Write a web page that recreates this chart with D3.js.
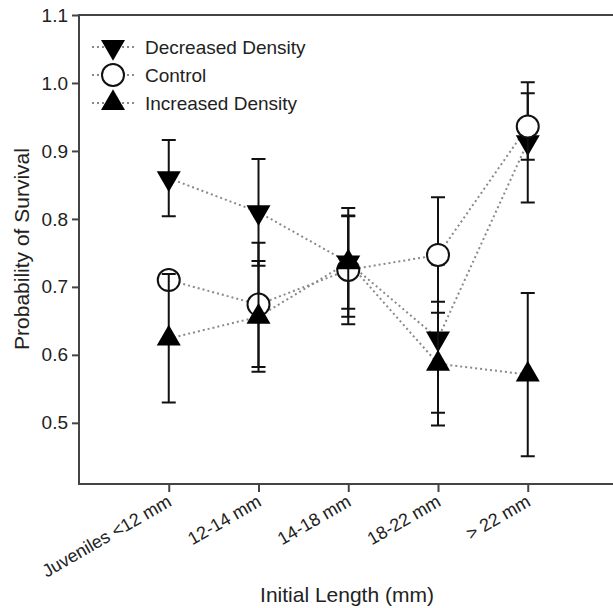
<!DOCTYPE html>
<html>
<head>
<meta charset="utf-8">
<script src="https://cdn.jsdelivr.net/npm/d3@7"></script>
<style>
  body { margin: 0; background: #fff; }
  text { font-family: "Liberation Sans", Arial, sans-serif; fill: #222; }
</style>
</head>
<body>
<script>
// categories and series values
var categories = ["Juveniles <12 mm", "12-14 mm", "14-18 mm", "18-22 mm", "> 22 mm"];

var decreased = [0.86, 0.81, 0.736, 0.624, 0.913];
var decreasedLo = [0.804, 0.731, 0.656, 0.515, 0.824];
var decreasedHi = [0.916, 0.888, 0.816, 0.733, 1.001];

var control = [0.71, 0.674, 0.725, 0.747, 0.936];
var controlLo = [0.71, 0.582, 0.645, 0.662, 0.887];
var controlHi = [0.71, 0.765, 0.805, 0.832, 0.985];

var increased = [0.624, 0.656, 0.736, 0.587, 0.571];
var increasedLo = [0.53, 0.575, 0.668, 0.496, 0.451];
var increasedHi = [0.719, 0.738, 0.804, 0.678, 0.691];

var yTicks = [0.5, 0.6, 0.7, 0.8, 0.9, 1.0, 1.1];

var series = [
  {name: "Decreased Density", shape: "down", v: decreased, lo: decreasedLo, hi: decreasedHi},
  {name: "Control", shape: "circle", v: control, lo: controlLo, hi: controlHi},
  {name: "Increased Density", shape: "up", v: increased, lo: increasedLo, hi: increasedHi}
];

var chart = {width: 613, height: 608, left: 79, top: 15, bottom: 484, right: 617.5};

var svg = d3.select('body').append('svg').attr('width', chart.width).attr('height', chart.height);

var x = d3.scalePoint().domain(categories).range([chart.left, chart.right]).padding(1);
var y = d3.scaleLinear().domain([0.41, 1.1]).range([chart.bottom, chart.top]);

// axes
var yAxis = d3.axisLeft(y).tickValues(yTicks).tickFormat(d3.format('.1f')).tickSize(7).tickPadding(4);
var gy = svg.append('g').attr('transform', 'translate(' + chart.left + ',0)').call(yAxis);
gy.select('.domain').remove();
gy.selectAll('.tick line').attr('stroke', '#444').attr('stroke-width', 2);
gy.selectAll('.tick text').style('font-size', '19px').style('font-family', '"Liberation Sans", Arial, sans-serif').attr('fill', '#222');

var xAxis = d3.axisBottom(x).tickSize(8).tickFormat('');
var gx = svg.append('g').attr('transform', 'translate(0,' + chart.bottom + ')').call(xAxis);
gx.select('.domain').remove();
gx.selectAll('.tick line').attr('stroke', '#444').attr('stroke-width', 2);

// frame lines (left, bottom, top)
svg.append('path')
  .attr('d', 'M' + chart.width + ',' + chart.top + 'H' + chart.left + 'V' + chart.bottom + 'H' + chart.width)
  .attr('fill', 'none').attr('stroke', '#444').attr('stroke-width', 2);

// rotated category labels
svg.append('g').selectAll('text').data(categories).enter().append('text')
  .attr('transform', function(d) { return 'translate(' + (x(d) + 4) + ',505) rotate(-30)'; })
  .attr('text-anchor', 'end')
  .style('font-size', '18px')
  .text(function(d) { return d; });

// axis titles
svg.append('text')
  .attr('transform', 'translate(29,249) rotate(-90)')
  .attr('text-anchor', 'middle')
  .style('font-size', '21px')
  .text('Probability of Survival');

svg.append('text')
  .attr('x', 347).attr('y', 602)
  .attr('text-anchor', 'middle')
  .style('font-size', '21px')
  .text('Initial Length (mm)');

var tri = d3.symbol().type(d3.symbolTriangle).size(250);

function drawMarker(g, shape) {
  if (shape == 'circle') {
    g.append('circle').attr('r', 11).attr('fill', '#fff').attr('stroke', '#111').attr('stroke-width', 2);
  } else {
    g.append('path').attr('d', tri()).attr('fill', '#000')
      .attr('transform', shape == 'down' ? 'rotate(180)' : null);
  }
}

// dotted connecting lines first
var line = d3.line()
  .x(function(d, i) { return x(categories[i]); })
  .y(function(d) { return y(d); });

series.forEach(function(s) {
  svg.append('path').attr('d', line(s.v))
    .attr('fill', 'none').attr('stroke', '#8a8a8a').attr('stroke-width', 2)
    .attr('stroke-dasharray', '2,3');
});

// error bars and markers, one series at a time
series.forEach(function(s) {
  var g = svg.append('g');
  s.v.forEach(function(v, i) {
    var cx = x(categories[i]);
    if (s.hi[i] > s.lo[i]) {
      g.append('path')
        .attr('d', 'M' + cx + ',' + y(s.lo[i]) + 'V' + y(s.hi[i]) +
          'M' + (cx - 7) + ',' + y(s.lo[i]) + 'H' + (cx + 7) +
          'M' + (cx - 7) + ',' + y(s.hi[i]) + 'H' + (cx + 7))
        .attr('fill', 'none').attr('stroke', '#111').attr('stroke-width', 2);
    }
    var m = g.append('g').attr('transform', 'translate(' + cx + ',' + y(v) + ')');
    drawMarker(m, s.shape);
  });
});

// legend
var legend = svg.append('g');
series.forEach(function(s, i) {
  var ly = 47 + i * 28;
  legend.append('line').attr('x1', 92).attr('x2', 134).attr('y1', ly).attr('y2', ly)
    .attr('stroke', '#8a8a8a').attr('stroke-width', 2).attr('stroke-dasharray', '2,3');
  var m = legend.append('g').attr('transform', 'translate(113,' + ly + ')');
  drawMarker(m, s.shape);
  legend.append('text').attr('x', 145).attr('y', ly).attr('dy', '0.36em')
    .style('font-size', '19px').text(s.name);
});
</script>
</body>
</html>
